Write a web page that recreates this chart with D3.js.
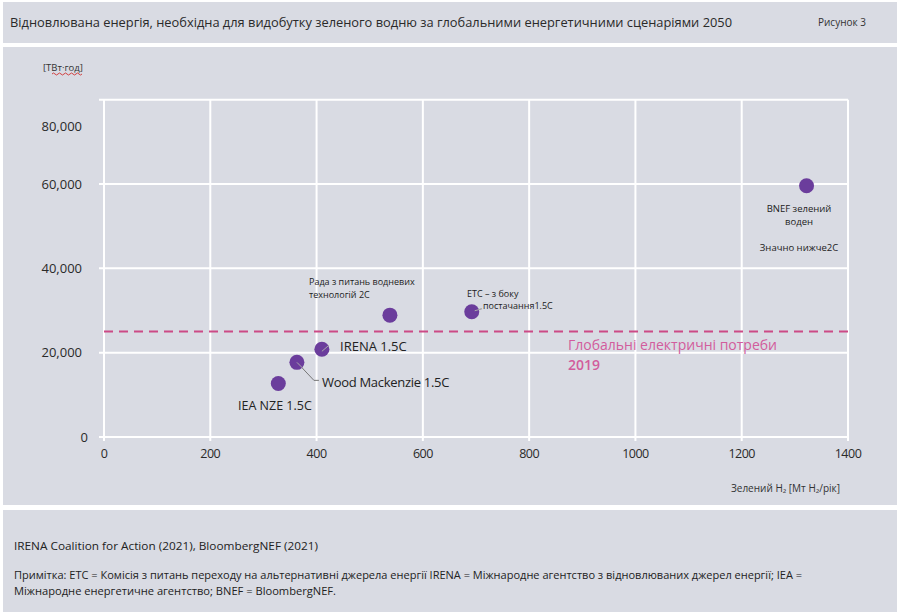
<!DOCTYPE html>
<html><head><meta charset="utf-8">
<script src="https://cdn.jsdelivr.net/npm/d3@7"></script>
<style>body{margin:0;background:#fff;}svg{display:block;font-family:"Open Sans","Noto Sans",sans-serif;}</style>
</head><body>
<svg id="c" width="900" height="612"></svg>
<script>
const scenarios = ["IEA NZE 1.5C","Wood Mackenzie 1.5C","IRENA 1.5C","Hydrogen Council 2C","ETC supply 1.5C","BNEF green H2"];
const h2Mt = [328, 363, 410, 538, 692, 1322];
const energyTWh = [12700, 17700, 20800, 28900, 29700, 59600];
const xTicks = [0,200,400,600,800,1000,1200,1400];
const yTicks = [0,20000,40000,60000,80000];
const yTickLabels = ["0","20,000","40,000","60,000","80,000"];
const electricity2019 = 25000;

const svg = d3.select("#c");
const bg = "#d9dbe3";
svg.append("rect").attr("x",3).attr("y",2).attr("width",894).attr("height",41).attr("fill",bg);
svg.append("rect").attr("x",3).attr("y",47).attr("width",894).attr("height",458).attr("fill",bg);
svg.append("rect").attr("x",3).attr("y",510).attr("width",894).attr("height",102).attr("fill",bg);

svg.append("text").attr("x",10).attr("y",27).attr("font-size",13).attr("fill","#2a2a2a")
  .attr("textLength",722).attr("lengthAdjust","spacingAndGlyphs")
  .text("Відновлювана  енергія,  необхідна  для  видобутку  зеленого водню  за  глобальними  енергетичними  сценаріями  2050");
svg.append("text").attr("x",818).attr("y",26).attr("font-size",10).attr("fill","#333").text("Рисунок 3");

const x = d3.scaleLinear().domain([0,1400]).range([104,848]);
const y = d3.scaleLinear().domain([0,80000]).range([437,99.7]);

const g = svg.append("g");
g.selectAll("line.v").data(xTicks).join("line")
  .attr("x1",d=>x(d)).attr("x2",d=>x(d)).attr("y1",y(80000)).attr("y2",441)
  .attr("stroke","#fff").attr("stroke-width",2);
g.selectAll("line.h").data(yTicks).join("line")
  .attr("x1",99).attr("x2",x(1400)).attr("y1",d=>y(d)).attr("y2",d=>y(d))
  .attr("stroke","#fff").attr("stroke-width",2);

// y tick labels (80,000 label is offset in the original)
g.selectAll("text.yt").data(yTicks).join("text")
  .attr("x",d=>d===0?88:82).attr("y",d=>y(d) + (d===80000?27:0)).attr("dy","0.35em")
  .attr("text-anchor","end").attr("font-size",13).attr("fill","#2a2a2a")
  .text((d,i)=>yTickLabels[i]);
g.selectAll("text.xt").data(xTicks).join("text")
  .attr("x",d=>x(d)).attr("y",458).attr("text-anchor","middle")
  .attr("font-size",12.5).attr("fill","#2a2a2a").attr("letter-spacing","-0.5")
  .text(d=>d);

svg.append("text").attr("x",43).attr("y",71).attr("font-size",9.5).attr("fill","#333").text("[ТВт·год]");
svg.append("path").attr("d","M52,74 q1.5,-2 3,0 t3,0 t3,0 t3,0 t3,0 t3,0 t3,0 t3,0 t3,0 t3,0")
  .attr("fill","none").attr("stroke","#d03030").attr("stroke-width",0.9);

svg.append("text").attr("x",840).attr("y",492).attr("text-anchor","end").attr("font-size",10).attr("fill","#333")
  .text("Зелений  H₂  [Мт  H₂/рік]");

svg.append("line").attr("x1",x(0)).attr("x2",x(1400)).attr("y1",y(electricity2019)).attr("y2",y(electricity2019))
  .attr("stroke","#cc4a86").attr("stroke-width",2).attr("stroke-dasharray","9,6");
svg.append("text").attr("x",568).attr("y",350).attr("font-size",14).attr("font-weight",500).attr("fill","#d25c9c").text("Глобальні електричні потреби");
svg.append("text").attr("x",568).attr("y",370).attr("font-size",14).attr("font-weight",600).attr("fill","#d25c9c").text("2019");

const lx = i=>x(h2Mt[i]), ly = i=>y(energyTWh[i]);
svg.append("path").attr("d",`M${lx(1)},${ly(1)} L${lx(1)+17},${ly(1)+18} L${lx(1)+22},${ly(1)+18}`)
  .attr("fill","none").attr("stroke","#777").attr("stroke-width",1);
svg.append("path").attr("d",`M${lx(4)},${ly(4)} L${lx(4)+10},${ly(4)-3}`)
  .attr("fill","none").attr("stroke","#999").attr("stroke-width",1);

svg.selectAll("circle.p").data(h2Mt).join("circle")
  .attr("cx",(d)=>x(d)).attr("cy",(d,i)=>y(energyTWh[i])).attr("r",7.5)
  .attr("fill","#6b3d9c");
svg.append("path").attr("d",`M${lx(1)},${ly(1)} L${lx(1)+6},${ly(1)+6}`).attr("stroke","#aaa").attr("stroke-width",1);
svg.append("path").attr("d",`M${lx(2)},${ly(2)+2} L${lx(2)+7},${ly(2)-4}`).attr("stroke","#aaa").attr("stroke-width",1);
svg.append("path").attr("d",`M${lx(4)+3},${ly(4)-1} L${lx(4)+10},${ly(4)-3}`).attr("stroke","#aaa").attr("stroke-width",1);

const lab = (t,xx,yy,fs,anchor)=>svg.append("text").attr("x",xx).attr("y",yy).attr("font-size",fs)
  .attr("fill","#222").attr("text-anchor",anchor||"start").text(t);
lab("IEA NZE 1.5C",238,410,12.5).attr("font-weight",500);
lab("Wood Mackenzie 1.5C",322,387,13).attr("letter-spacing","-0.3").attr("font-weight",500);
lab("IRENA 1.5C",340,351,13).attr("font-weight",500);
lab("Рада з питань водневих",309,285,9);
lab("технологій 2С",309,298,9);
lab("ETC – з боку",467,297,9);
lab("постачання1.5С",483,309,9);
lab("BNEF зелений",799,212,9.5,"middle");
lab("воден",799,225,9.5,"middle");
lab("Значно  нижче2С",799,251,9.5,"middle");

svg.append("text").attr("x",14).attr("y",550).attr("font-size",11.5).attr("fill","#222")
  .attr("textLength",304).attr("lengthAdjust","spacingAndGlyphs")
  .text("IRENA Coalition for Action  (2021), BloombergNEF (2021)");
svg.append("text").attr("x",14).attr("y",579).attr("font-size",10.5).attr("fill","#222")
  .attr("textLength",788).attr("lengthAdjust","spacingAndGlyphs")
  .text("Примітка: ETC = Комісія з питань переходу на альтернативні джерела енергії IRENA = Міжнародне агентство з відновлюваних джерел енергії; IEA =");
svg.append("text").attr("x",14).attr("y",595).attr("font-size",10.5).attr("fill","#222")
  .attr("textLength",322).attr("lengthAdjust","spacingAndGlyphs")
  .text("Міжнародне енергетичне агентство; BNEF = BloombergNEF.");
</script>
</body></html>
